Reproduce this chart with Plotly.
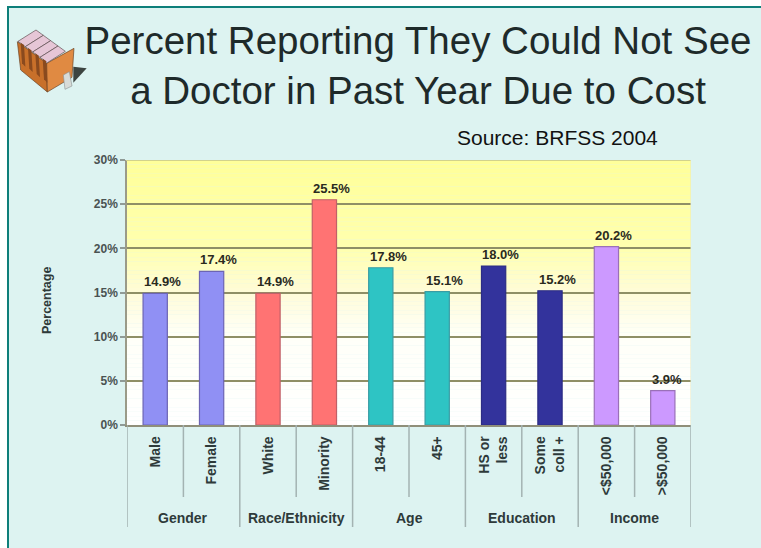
import plotly.graph_objects as go

W, H = 761, 548

categories = ["Male", "Female", "White", "Minority", "18-44", "45+", "HS or<br>less", "Some<br>coll +", "&lt;$50,000", "&gt;$50,000"]
values = [14.9, 17.4, 14.9, 25.5, 17.8, 15.1, 18.0, 15.2, 20.2, 3.9]
labels = ["14.9%", "17.4%", "14.9%", "25.5%", "17.8%", "15.1%", "18.0%", "15.2%", "20.2%", "3.9%"]
groups = ["Gender", "Race/Ethnicity", "Age", "Education", "Income"]
bar_colors = ["#9090F4"] * 2 + ["#FF7373"] * 2 + ["#2EC4C4"] * 2 + ["#33339C"] * 2 + ["#CC99FF"] * 2
bar_edges = ["#6C64B4"] * 2 + ["#C06068"] * 2 + ["#3A9CA4"] * 2 + ["#2C2C84"] * 2 + ["#9A70B8"] * 2
y_ticks = [0, 5, 10, 15, 20, 25, 30]
y_ticktext = ["0%", "5%", "10%", "15%", "20%", "25%", "30%"]

FONT = "Liberation Sans"
BG = "#DDF3F1"
TEAL = "#0E7F7A"


def px(x):
    return x / W


def py(y):
    return 1 - y / H


def poly(points, fill, line=None, lw=0.6):
    d = "M " + " L ".join(f"{px(10 + a / 3):.5f},{py(20 + b / 3):.5f}" for a, b in points) + " Z"
    return dict(type="path", xref="paper", yref="paper", path=d, fillcolor=fill,
                line=dict(color=line or fill, width=lw if line else 0), layer="above")


shapes = []
# page background and frame
shapes.append(dict(type="rect", xref="paper", yref="paper", x0=px(8), x1=1, y0=0, y1=py(7),
                   fillcolor=BG, line=dict(width=0), layer="below"))
shapes.append(dict(type="line", xref="paper", yref="paper", x0=px(8), x1=px(8), y0=0, y1=py(7),
                   line=dict(color=TEAL, width=2), layer="below"))
shapes.append(dict(type="line", xref="paper", yref="paper", x0=px(7), x1=1, y0=py(7), y1=py(7),
                   line=dict(color=TEAL, width=2), layer="below"))


# plot background gradient: yellow at the top fading to white at the bottom
def bg_color(v):
    stops = [(0, (255, 255, 255)), (10, (255, 255, 248)), (15, (255, 252, 216)), (20, (255, 255, 175)), (30, (255, 255, 153))]
    for (a, ca), (b, cb) in zip(stops, stops[1:]):
        if a <= v <= b:
            t = (v - a) / (b - a)
            return "rgb(%d,%d,%d)" % tuple(round(p + (q - p) * t) for p, q in zip(ca, cb))
    return "white"


for i in range(60):
    shapes.append(dict(type="rect", xref="x", yref="y", x0=-0.5, x1=9.5, y0=i / 2, y1=i / 2 + 0.5,
                       fillcolor=bg_color(i / 2 + 0.25), line=dict(width=0), layer="below"))

# dividers below the axis
n = len(categories)
for k in range(n + 1):
    bottom = 527 if k % 2 == 0 else 497
    shapes.append(dict(type="line", xref="x", yref="paper", x0=k - 0.5, x1=k - 0.5, y0=py(bottom), y1=py(425),
                       line=dict(color="#A3B3B2", width=1.5)))

# top edge of the plot
shapes.append(dict(type="line", xref="paper", yref="y", x0=px(126), x1=px(691), y0=30, y1=30,
                   line=dict(color="#D2D28C", width=2)))
shapes.append(dict(type="line", xref="x", yref="y", x0=9.5, x1=9.5, y0=0, y1=30,
                   line=dict(color="#E8E8C0", width=1)))

# book icon
shapes.append(poly([(190, 140), (230, 145), (190, 188)], "#3C4440"))
shapes.append(poly([(22, 65), (110, 130), (112, 216), (32, 150)], "#C8702A", "#5A3418"))
shapes.append(poly([(110, 130), (192, 85), (186, 172), (112, 216)], "#E08A42", "#5A3418"))
for s in range(4):
    ox, oy = 22 * s, 16 * s
    shapes.append(poly([(24 + ox, 64 + oy), (78 + ox, 30 + oy), (100 + ox, 46 + oy), (46 + ox, 80 + oy)], "#E6C6D6", "#4A3A3A"))
    shapes.append(poly([(32 + ox, 68 + oy), (42 + ox, 75 + oy), (46 + ox, 140 + oy * 1.0), (36 + ox, 130 + oy * 1.0)], "#8A4A1E"))
shapes.append(poly([(160, 165), (178, 155), (186, 198), (165, 208)], "#D8DCD8", "#8A9090"))

annotations = [
    dict(text="Source: BRFSS 2004", xref="paper", yref="paper", x=px(557), y=py(137), xanchor="center", yanchor="middle",
         showarrow=False, font=dict(family=FONT, size=21, color="#111111")),
    dict(text="<b>Percentage</b>", xref="paper", yref="paper", x=px(47), y=py(301), xanchor="center", yanchor="middle",
         textangle=-90, showarrow=False, font=dict(family=FONT, size=12.5, color="#2E3A3A")),
]
for g, name in enumerate(groups):
    annotations.append(dict(text=f"<b>{name}</b>", xref="x", yref="paper", x=2 * g + 0.5, y=py(518), xanchor="center",
                            yanchor="middle", showarrow=False, font=dict(family=FONT, size=14, color="#2E3A3A")))
# value labels start at the left edge of each bar, as in the source chart
for i, (v, t) in enumerate(zip(values, labels)):
    annotations.append(dict(text=f"<b>{t}</b>", xref="x", yref="y", x=i - 0.215, y=v, xanchor="left", yanchor="bottom",
                            yshift=3, showarrow=False, borderpad=0, font=dict(family=FONT, size=13, color="#2A2A1E")))

fig = go.Figure(go.Bar(
    x=list(range(n)), y=values, width=0.43,
    marker=dict(color=bar_colors, line=dict(color=bar_edges, width=1.2)),
))

fig.update_layout(
    width=W, height=H, autosize=False, showlegend=False,
    margin=dict(l=0, r=0, t=0, b=0, pad=0, autoexpand=False),
    paper_bgcolor="white", plot_bgcolor="rgba(0,0,0,0)",
    font=dict(family=FONT),
    title=dict(text="Percent Reporting They Could Not See<br>a Doctor in Past Year Due to Cost",
               x=px(418), xanchor="center", y=py(53.5), yanchor="middle", automargin=False,
               font=dict(family=FONT, size=38.5, color="#1E2A2A")),
    shapes=shapes, annotations=annotations,
    xaxis=dict(domain=[px(127), px(691)], range=[-0.5, 9.5], tickmode="array", tickvals=list(range(n)),
               ticktext=[f"<b>{c}</b>" for c in categories], tickangle=-90, ticks="outside", ticklen=4,
               tickcolor="rgba(0,0,0,0)",
               tickfont=dict(family=FONT, size=14, color="#2E3A3A"), showgrid=False, zeroline=False,
               showline=True, linecolor="#8F8F7A", linewidth=1.5),
    yaxis=dict(domain=[py(425), py(160)], range=[0, 30], tickmode="array", tickvals=y_ticks, ticktext=[f"<b>{t}</b>" for t in y_ticktext],
               ticks="outside", ticklen=5, tickcolor="#8F9A96", tickwidth=1.5,
               tickfont=dict(family=FONT, size=12, color="#4A5252"),
               showgrid=True, gridcolor="#8F8F66", gridwidth=1.5, zeroline=False,
               showline=True, linecolor="#9A9A88", linewidth=1.5),
)

fig.write_html("out.html", config=dict(displayModeBar=False), post_script="document.body.style.margin='0';")
